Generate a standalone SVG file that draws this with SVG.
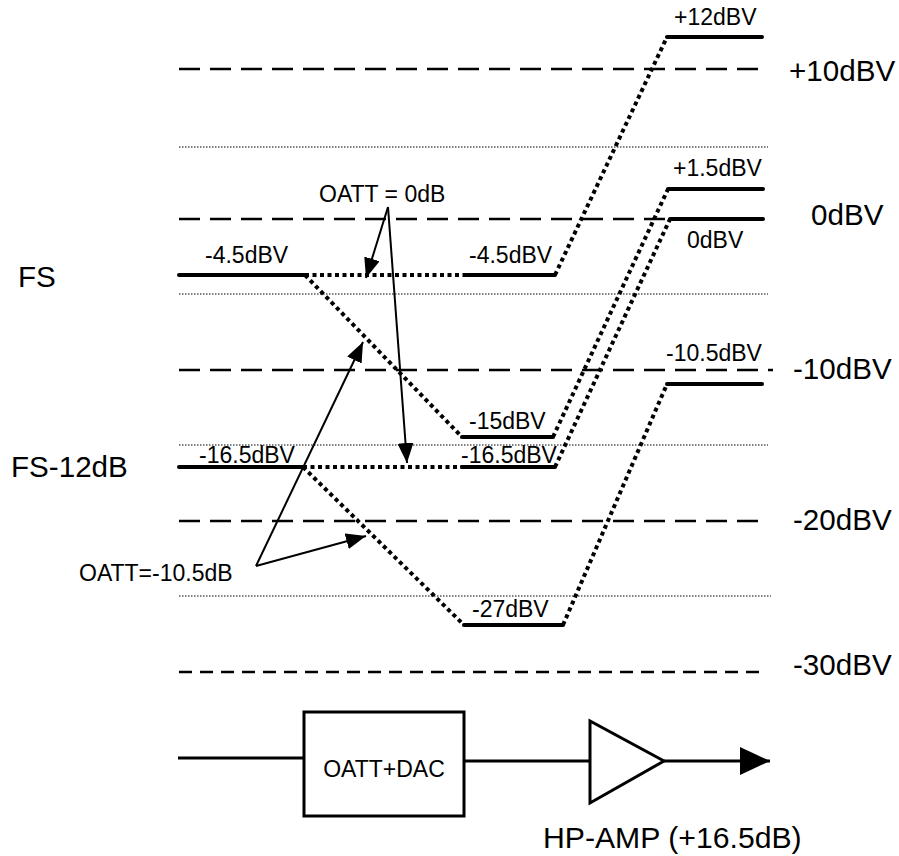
<svg xmlns="http://www.w3.org/2000/svg" width="899" height="856" viewBox="0 0 899 856">
<style>
text{font-family:"Liberation Sans",Arial,sans-serif;fill:#000}
.s{font-size:23px}
.b{font-size:29.6px}
.grid{stroke:#000;stroke-width:2.6;stroke-dasharray:21 10;fill:none}
.grid30{stroke:#000;stroke-width:2.6;stroke-dasharray:13 8;fill:none}
.fine{stroke:#000;stroke-width:1;stroke-dasharray:1.5 1.5;fill:none}
.lvl{stroke:#000;stroke-width:4;fill:none;stroke-linecap:round}
.path{stroke:#000;stroke-width:4;stroke-dasharray:4 3.5;fill:none}
.arr{stroke:#000;stroke-width:2;fill:none;marker-end:url(#ah)}
.wire{stroke:#000;stroke-width:3;fill:none}
</style>
<defs>
<marker id="ah" markerUnits="userSpaceOnUse" markerWidth="22" markerHeight="18" refX="20" refY="8" orient="auto">
<path d="M0,0 L20,8 L0,16 z" fill="#000"/>
</marker>
<marker id="ah2" markerUnits="userSpaceOnUse" markerWidth="32" markerHeight="30" refX="30" refY="14" orient="auto">
<path d="M0,0 L30,14 L0,28 z" fill="#000"/>
</marker>
</defs>
<rect width="899" height="856" fill="#fff"/>

<g id="grid">
<line class="grid" x1="179" y1="69" x2="764" y2="69"/>
<line class="grid" x1="179" y1="219" x2="764" y2="219"/>
<line class="grid" x1="179" y1="370" x2="773" y2="370"/>
<line class="grid" x1="179" y1="521" x2="762" y2="521"/>
<line class="grid30" x1="179" y1="672" x2="763" y2="672"/>
<line class="fine" x1="179" y1="147" x2="768" y2="147"/>
<line class="fine" x1="179" y1="294" x2="768" y2="294"/>
<line class="fine" x1="179" y1="445" x2="768" y2="445"/>
<line class="fine" x1="179" y1="596" x2="771" y2="596"/>
<text class="b" x="789" y="81">+10dBV</text>
<text class="b" x="811" y="225">0dBV</text>
<text class="b" x="793" y="379">-10dBV</text>
<text class="b" x="793" y="530">-20dBV</text>
<text class="b" x="793" y="675">-30dBV</text>
<text class="b" x="18" y="287">FS</text>
<text class="b" x="11" y="477">FS-12dB</text>
</g>

<g id="levels">
<line class="lvl" x1="179" y1="275" x2="305" y2="275"/>
<line class="lvl" x1="179" y1="467" x2="303" y2="467"/>
<line class="lvl" x1="467" y1="275" x2="555" y2="275"/>
<line class="lvl" x1="462" y1="437" x2="553" y2="437"/>
<line class="lvl" x1="462" y1="467" x2="555" y2="467"/>
<line class="lvl" x1="464" y1="625" x2="563" y2="625"/>
<line class="lvl" x1="667" y1="37" x2="762" y2="37"/>
<line class="lvl" x1="668" y1="189" x2="763" y2="189"/>
<line class="lvl" x1="670" y1="219" x2="763" y2="219"/>
<line class="lvl" x1="667" y1="384" x2="762" y2="384"/>
<text class="s" x="205" y="263">-4.5dBV</text>
<text class="s" x="199" y="463">-16.5dBV</text>
<text class="s" x="469" y="263">-4.5dBV</text>
<text class="s" x="469" y="429">-15dBV</text>
<text class="s" x="461" y="463">-16.5dBV</text>
<text class="s" x="472" y="617">-27dBV</text>
<text class="s" x="674" y="25">+12dBV</text>
<text class="s" x="673" y="176">+1.5dBV</text>
<text class="s" x="687" y="248">0dBV</text>
<text class="s" x="666" y="361">-10.5dBV</text>
</g>

<g id="connectors">
<line class="path" x1="305" y1="275" x2="467" y2="275"/>
<line class="path" x1="303" y1="467" x2="462" y2="467"/>
<line class="path" x1="305" y1="275" x2="462" y2="437"/>
<line class="path" x1="303" y1="467" x2="464" y2="625"/>
<line class="path" x1="555" y1="275" x2="667" y2="37"/>
<line class="path" x1="553" y1="437" x2="668" y2="189"/>
<line class="path" x1="555" y1="467" x2="670" y2="219"/>
<line class="path" x1="563" y1="625" x2="667" y2="384"/>
<line class="arr" x1="388" y1="207" x2="366" y2="278"/>
<line class="arr" x1="388" y1="207" x2="407" y2="463"/>
<line class="arr" x1="256" y1="566" x2="363" y2="342"/>
<line class="arr" x1="256" y1="566" x2="366" y2="536"/>
<text class="s" x="319" y="202">OATT = 0dB</text>
<text class="s" x="79" y="581">OATT=-10.5dB</text>
<line class="wire" x1="178" y1="758" x2="304" y2="758"/>
<line class="wire" x1="464" y1="761" x2="590" y2="761"/>
<line class="wire" x1="664" y1="761" x2="770" y2="761" marker-end="url(#ah2)"/>
</g>

<g id="dac">
<rect x="304" y="712" width="160" height="104" fill="#fff" stroke="#000" stroke-width="3"/>
<text class="s" x="384" y="777" text-anchor="middle">OATT+DAC</text>
</g>

<g id="amp">
<polygon points="590,721 590,803 664,761" fill="#fff" stroke="#000" stroke-width="3"/>
<text x="543" y="848" style="font-size:30.2px">HP-AMP (+16.5dB)</text>
</g>
</svg>
